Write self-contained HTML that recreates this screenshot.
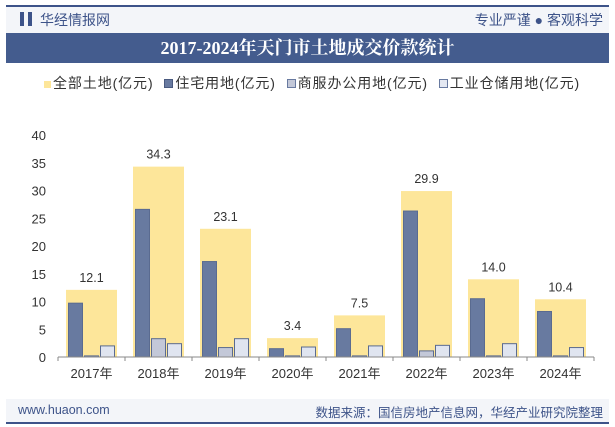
<!DOCTYPE html>
<html><head><meta charset="utf-8"><style>
body{margin:0;width:615px;height:427px;background:#fff;font-family:"Liberation Sans","Noto Sans CJK SC",sans-serif;overflow:hidden;position:relative}
.abs{position:absolute}
</style></head><body>
<div class="abs" style="left:6px;top:5px;width:603px;height:28px;background:#f3f5f9;border-top:2px solid #3d5389"></div>
<div class="abs" style="left:20px;top:12px;width:4px;height:14px;background:#3d5389"></div>
<div class="abs" style="left:28px;top:12px;width:4px;height:14px;background:#3d5389"></div>
<div class="abs" style="left:40px;top:10px;font-size:14px;color:#3d5389">华经情报网</div>
<div class="abs" style="right:12px;top:10px;font-size:14px;color:#3d5389">专业严谨 ● 客观科学</div>
<div class="abs" style="left:6px;top:33px;width:603px;height:30px;background:#445c8e;color:#fff;font-family:'Liberation Serif','Noto Serif CJK SC',serif;font-weight:bold;font-size:18px;text-align:center;line-height:30px">2017-2024年天门市土地成交价款统计</div>
<div class="abs" style="left:44px;top:73px;font-size:14px;letter-spacing:0.9px;color:#333;white-space:nowrap">
<span><span style="display:inline-block;width:7px;height:7px;background:#fde69a;margin-right:2px"></span>全部土地(亿元)</span>
<span style="margin-left:6px"><span style="display:inline-block;width:7px;height:7px;background:#687aa0;border:1px solid #4a5a80;margin-right:2px"></span>住宅用地(亿元)</span>
<span style="margin-left:6px"><span style="display:inline-block;width:7px;height:7px;background:#c3c8d8;border:1px solid #687aa0;margin-right:2px"></span>商服办公用地(亿元)</span>
<span style="margin-left:6px"><span style="display:inline-block;width:7px;height:7px;background:#e4e8f2;border:1px solid #687aa0;margin-right:2px"></span>工业仓储用地(亿元)</span>
</div>
<svg class="abs" style="left:0;top:0" width="615" height="427" id="chart"></svg>
<div class="abs" style="left:6px;top:399px;width:603px;height:23px;background:#f3f5f9;border-bottom:2px solid #3d5389"></div>
<div class="abs" style="left:18px;top:403px;font-size:12.5px;color:#3d5389">www.huaon.com</div>
<div class="abs" style="right:12px;top:402px;font-size:12.5px;color:#3d5389">数据来源：国信房地产信息网，华经产业研究院整理</div>
<script>
const categories=["2017年","2018年","2019年","2020年","2021年","2022年","2023年","2024年"];
const totalVals=[12.1,34.3,23.1,3.4,7.5,29.9,14.0,10.4];
const resVals=[9.7,26.6,17.2,1.5,5.1,26.3,10.5,8.2];
const comVals=[0.2,3.3,1.7,0.2,0.2,1.1,0.2,0.2];
const indVals=[2.0,2.4,3.3,1.8,2.0,2.1,2.4,1.7];
const yTicks=[0,5,10,15,20,25,30,35,40];
const NS="http://www.w3.org/2000/svg";
const svg=document.getElementById('chart');
const x0=58,x1=594,y0=357,y1=135,yMax=40;
const band=(x1-x0)/categories.length;
const y=v=>y0-(v/yMax)*(y0-y1);
function mk(t,a,p){const e=document.createElementNS(NS,t);for(const k in a)e.setAttribute(k,a[k]);(p||svg).appendChild(e);return e;}
yTicks.forEach(t=>{const tx=mk('text',{x:46,y:y(t)+5,'text-anchor':'end','font-size':13,fill:'#333'});tx.textContent=t;

});
categories.forEach((c,i)=>{
const bx=x0+i*band;
const r=mk('rect',{x:bx+8,y:y(totalVals[i]),width:51,height:y0-y(totalVals[i]),fill:'#fde69a'});


const lb=mk('text',{x:bx+band/2,y:y(totalVals[i])-8,'text-anchor':'middle','font-size':12.5,fill:'#333'});lb.textContent=totalVals[i].toFixed(1);


[[resVals,'#687aa0','res'],[comVals,'#c3c8d8','com'],[indVals,'#e0e5f0','ind']].forEach((s,j)=>{
const v=s[0][i];const b=mk('rect',{x:bx+10.5+j*16,y:y(v),width:14,height:y0-y(v),fill:s[1],stroke:'#5a6b90','stroke-width':1});

});
const tl=mk('text',{x:bx+band/2,y:378,'text-anchor':'middle','font-size':13,fill:'#333'});tl.textContent=c;


});
const ax=mk('line',{x1:x0,x2:x1,y1:y0,y2:y0,stroke:'#888'});


for(let i=0;i<=categories.length;i++){const t=mk('line',{x1:x0+i*band,x2:x0+i*band,y1:y0,y2:y0+4,stroke:'#888'});

}
</script>
</body></html>
